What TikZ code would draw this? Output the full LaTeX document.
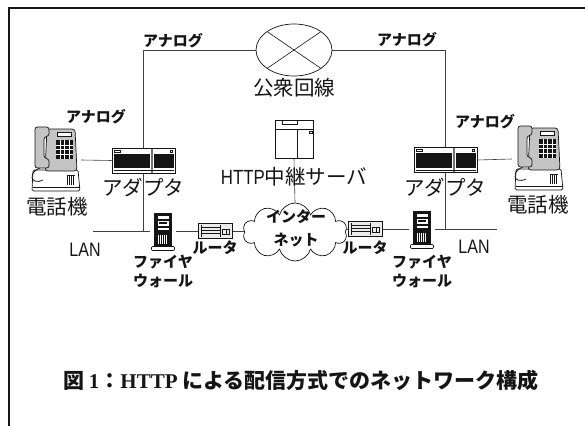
\documentclass[tikz,border=0pt]{standalone}
\usepackage{fontspec}
\setmainfont{Liberation Serif}
\newfontfamily\jpfont{Noto Sans CJK JP}
\newfontfamily\narrowfont[FakeStretch=0.82]{Liberation Sans}
\usetikzlibrary{shapes.geometric, shapes.symbols, backgrounds}
\definecolor{inkblack}{HTML}{151515}
\definecolor{wiregray}{HTML}{404040}
\definecolor{halftone}{HTML}{C4C4C4}

\begin{document}
\begin{tikzpicture}[x=1pt, y=-1pt]
  % Styles
  \tikzstyle{wire} = [draw=wiregray, line width=0.6pt]
  \tikzstyle{lbl} = [inner sep=0pt, text=inkblack, font=\jpfont\fontsize{20.5}{24}\selectfont]
  \tikzstyle{boldlbl} = [inner sep=0pt, text=inkblack, align=center, font=\jpfont\bfseries\fontsize{15}{19}\selectfont]
  \tikzstyle{lanlbl} = [inner sep=0pt, text=inkblack, font=\narrowfont\fontsize{19.5}{22}\selectfont]
  \tikzstyle{phonebox} = [minimum width=52pt, minimum height=68pt, inner sep=0pt, path picture={
    \begin{scope}[shift={(path picture bounding box.center)}, line width=0.7pt, draw=inkblack]
      % base and speaker
      \filldraw[fill=white, rounded corners=1.5pt] (-22,10) -- (23,10) -- (25,31) -- (-23,31) -- cycle;
      \draw[line width=0.4pt] (-22,27) -- (25,27);
      \fill[inkblack] (12,15) rectangle (20,25);
      \foreach \u in {13.5,15.5,...,19.5}
        \draw[white, line width=0.3pt] (\u,15.5) -- (\u,24.5);
      % body with display and keypad
      \filldraw[fill=halftone, rounded corners=3pt] (-10,11) -- (-8,-31) -- (20,-31) -- (22,11) -- cycle;
      \filldraw[fill=white, line width=0.5pt] (2,-28) rectangle (16,-23.5);
      \fill[inkblack] (1,-20) rectangle (18,-1);
      \foreach \u in {5.25,9.5,13.75}
        \draw[white, line width=0.5pt] (\u,-20) -- (\u,-1);
      \foreach \v in {-15.25,-10.5,-5.75}
        \draw[white, line width=0.5pt] (1,\v) -- (18,\v);
      % handset and cord
      \draw[line width=0.8pt] (-15,8) .. controls (-27,12) and (-25,26) .. (-12,20);
      \filldraw[fill=halftone, rounded corners=2.5pt] (-20,-33) -- (-6,-33) -- (-6,-24) -- (-11,-23)
        -- (-11,-2) -- (-6,-1) -- (-6,8) -- (-20,8) -- cycle;
    \end{scope}}]
  \tikzstyle{adapterbox} = [draw=inkblack, fill=white, line width=0.6pt, minimum width=63pt, minimum height=25pt, inner sep=0pt, path picture={
    \begin{scope}[shift={(path picture bounding box.center)}]
      \fill[inkblack] (-30,-7) rectangle (6.5,7.5);
      \fill[inkblack] (10,-7) rectangle (30,7.5);
      \fill[black!55] (7.5,-12.5) rectangle (9,12.5);
      \draw[line width=0.4pt] (-29,-10.5) rectangle (-23,-8.5);
      \draw[line width=0.4pt] (26.5,-10.5) rectangle (28.5,-8.5);
      \draw[line width=0.3pt] (-30,10) -- (30,10);
    \end{scope}}]
  \tikzstyle{firewallbox} = [minimum width=26pt, minimum height=42pt, inner sep=0pt, path picture={
    \begin{scope}[shift={(path picture bounding box.center)}]
      \filldraw[fill=inkblack, draw=inkblack, line width=0.6pt] (-8.5,-18) rectangle (8.5,16);
      \fill[white] (-5.5,-15) rectangle (5.5,-12.5);
      \fill[white] (-5.5,-10.5) rectangle (5.5,-5);
      \fill[inkblack] (-4,-9) rectangle (4,-7);
      \fill[white] (-5.5,-3.5) rectangle (5.5,-1);
      \foreach \u in {-4.5,-2.5,...,4.5}
        \draw[white, line width=0.5pt] (\u,3.5) -- (\u,13);
      \filldraw[fill=white, draw=inkblack, rounded corners=1pt, line width=0.6pt] (-11.5,15.5) rectangle (11.5,19.5);
    \end{scope}}]
  \tikzstyle{routerbox} = [draw=inkblack, fill=black!8, line width=0.5pt, minimum width=34pt, minimum height=15pt, inner sep=0pt, path picture={
    \begin{scope}[shift={(path picture bounding box.center)}, line width=0.4pt]
      \foreach \v in {-3.5,-0.5,2.5}
        \draw (-14,\v) -- (5.5,\v);
      \draw (-14,-6) -- (-14,6);
      \draw (5.5,-6) -- (5.5,6);
      \draw (7.5,-2) rectangle (14.5,3);
      \draw (11,-2) -- (11,3);
    \end{scope}}]
  \tikzstyle{serverbox} = [draw=inkblack, fill=white, line width=0.6pt, minimum width=38pt, minimum height=38pt, inner sep=0pt, path picture={
    \begin{scope}[shift={(path picture bounding box.center)}, line width=0.5pt]
      \draw (-12,-19) rectangle (3,-14.5);
      \draw (-19,-10) -- (19,-10);
      \draw (3,-10) -- (3,19);
      \draw (15,-8) rectangle (18,-5.5);
    \end{scope}}]

  \useasboundingbox (0,0) rectangle (585,425);

  % Frame
  \draw[line width=1.6pt, inkblack] (9,430) -- (9,8) -- (590,8);

  % Public network
  \node[ellipse, draw=inkblack, line width=0.7pt, minimum width=76pt, minimum height=52pt, inner sep=0pt,
    path picture={
      \draw[line width=0.6pt] (path picture bounding box.north west) -- (path picture bounding box.south east);
      \draw[line width=0.6pt] (path picture bounding box.south west) -- (path picture bounding box.north east);
    }] (pstn) at (294,50) {};
  \node[lbl] (pstnlbl) at (294,88) {公衆回線};

  % Telephones and adapters
  \node[phonebox] (telL) at (55,160) {};
  \node[phonebox] (telR) at (538,159) {};
  \node[adapterbox] (adL) at (143.5,160.5) {};
  \node[adapterbox] (adR) at (445.5,160) {};
  \node[lbl] (telLlbl) at (57,207) {電話機};
  \node[lbl] (telRlbl) at (538,205) {電話機};
  \node[lbl] (adLlbl) at (143,188) {アダプタ};
  \node[lbl] (adRlbl) at (445,188) {アダプタ};

  % Analog labels
  \node[boldlbl] (anaA) at (173,41) {アナログ};
  \node[boldlbl] (anaB) at (407,40) {アナログ};
  \node[boldlbl] (anaC) at (96,117) {アナログ};
  \node[boldlbl] (anaD) at (485,122) {アナログ};

  % Relay server and internet
  \node[serverbox] (srv) at (294,139) {};
  \node[lbl] (srvlbl) at (294,177) {{\narrowfont HTTP}中継サーバ};
  \node[cloud, draw=inkblack, fill=white, line width=0.7pt, cloud puffs=10, aspect=1.8,
    minimum width=104pt, minimum height=58pt, inner sep=0pt] (net) at (295,232) {};
  \node[boldlbl, font=\jpfont\bfseries\fontsize{15}{23}\selectfont] (netlbl) at (296,228) {インター\\ネット};

  % Firewalls and routers
  \node[firewallbox] (fwL) at (163,231) {};
  \node[firewallbox] (fwR) at (422,229) {};
  \node[routerbox] (rtL) at (215,231) {};
  \node[routerbox] (rtR) at (365,229) {};
  \node[boldlbl] (fwLlbl) at (163,271) {ファイヤ\\ウォール};
  \node[boldlbl] (fwRlbl) at (422,271) {ファイヤ\\ウォール};
  \node[boldlbl] (rtLlbl) at (215,248) {ルータ};
  \node[boldlbl] (rtRlbl) at (365,248) {ルータ};
  \node[lanlbl] (lanLlbl) at (85,250) {LAN};
  \node[lanlbl] (lanRlbl) at (474,247) {LAN};

  \coordinate (lanL) at (93,231);
  \coordinate (joinL) at (143,231);
  \coordinate (lanR) at (497,229);
  \coordinate (joinR) at (445,229);

  % Wires
  \begin{scope}[on background layer]
    \draw[wire] (pstn.west) -| (joinL);
    \draw[wire] (pstn.east) -| (joinR);
    \draw[wire] (telL.east) -- (adL.west);
    \draw[wire] (adR.east) -- (telR.west);
    \draw[wire] (lanL) -- (fwL.west);
    \draw[wire] (fwL.east) -- (rtL.west);
    \draw[wire] (rtL.east) -- (rtL.east -| net.west);
    \draw[wire] (lanR) -- (fwR.east);
    \draw[wire] (fwR.west) -- (rtR.east);
    \draw[wire] (rtR.west) -- (rtR.west -| net.east);
    \draw[wire] (srv.south) -- (net.north);
  \end{scope}

  % Caption
  \node[inner sep=0pt, text=inkblack, font=\jpfont\bfseries\fontsize{21}{24}\selectfont] (caption) at (301,380)
    {図 {\rmfamily\bfseries 1}：{\rmfamily\bfseries HTTP} による配信方式でのネットワーク構成};
\end{tikzpicture}
\end{document}
